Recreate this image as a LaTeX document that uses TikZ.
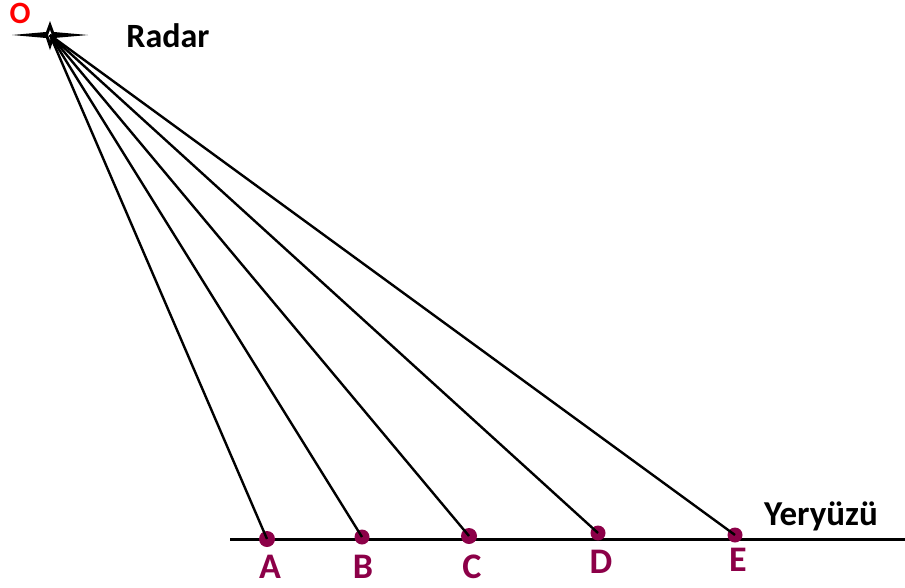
\documentclass[tikz,border=0pt]{standalone}
\usepackage{fontspec}
\setmainfont{Carlito}
\usepackage{tikz}
\usetikzlibrary{calc}

\definecolor{dotred}{RGB}{140,0,72}

\begin{document}
\begin{tikzpicture}[x=1pt, y=-1pt]
			\tikzset{
				target/.style={circle, fill=dotred, inner sep=0pt, minimum width=16pt, minimum height=14pt},
				tlabel/.style={text=dotred, font=\fontsize{36}{36}\selectfont\bfseries},
				ray/.style={line width=2.4pt}
			}
			\useasboundingbox (0,0) rectangle (905,587);

			% radar
			\coordinate (O) at (50,35);
			\fill ($(O)+(-38,0)$) -- ($(O)+(-4,-3)$) -- ($(O)+(0,-14)$) -- ($(O)+(4,-3)$) -- ($(O)+(38,0)$) -- ($(O)+(4,3)$) -- ($(O)+(0,15)$) -- ($(O)+(-4,3)$) -- cycle;
			\fill[white] ($(O)+(-1.8,0)$) -- ($(O)+(0,-5)$) -- ($(O)+(1.8,0)$) -- ($(O)+(0,5)$) -- cycle;
			\node (Olabel) [text=red, inner sep=0pt, anchor=base, font=\fontsize{31}{31}\selectfont\bfseries] at (20,23.5) {O};
			\node (radar) [font=\fontsize{34}{34}\selectfont\bfseries] at (168,36) {Radar};

			% ground
			\coordinate (G1) at (230,539);
			\coordinate (G2) at (905,539);
			\draw[line width=3pt] (G1) -- (G2);
			\node (yer) [font=\fontsize{35}{35}\selectfont\bfseries] at (821,516) {Yeryüzü};

			% targets
			\node (A) [target] at (267,539) {};
			\node (B) [target, minimum width=15pt] at (362,537) {};
			\node (C) [target] at (469,536) {};
			\node (D) [target, minimum width=15pt] at (598,533) {};
			\node (E) [target, minimum width=14pt, minimum height=15pt] at (735,535) {};

			\foreach \p in {A,B,C,D,E}
				\draw[ray] (O) -- (\p.center);

			\node (Alabel) [tlabel] at (270,567) {A};
			\node (Blabel) [tlabel] at (363,567) {B};
			\node (Clabel) [tlabel] at (472,567) {C};
			\node (Dlabel) [tlabel] at (601,562) {D};
			\node (Elabel) [tlabel] at (738,560) {E};
		\end{tikzpicture}
\end{document}
